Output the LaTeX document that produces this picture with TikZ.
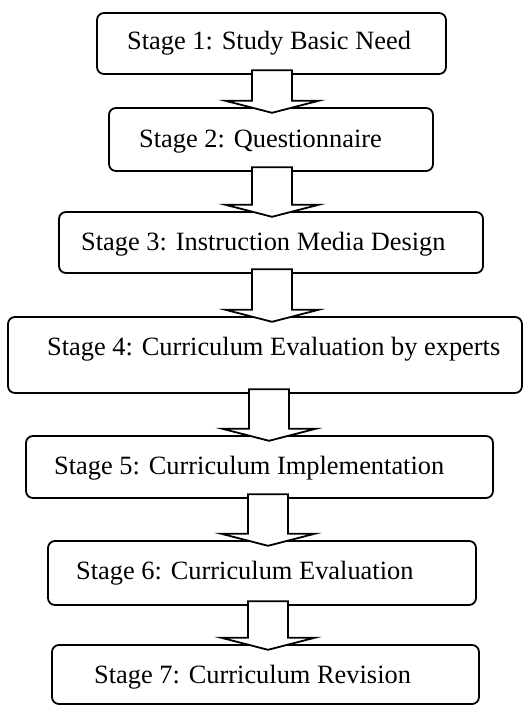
\documentclass[tikz,border=0pt]{standalone}
\usepackage{fontspec}
\setmainfont{Liberation Serif}
\usetikzlibrary{calc}
\tikzset{
  stagebox/.style={draw, line width=1.8pt, rounded corners=7pt, fill=white},
  stagetext/.style={anchor=base west, inner sep=0pt, font=\fontsize{26.4}{30}\selectfont},
  blockarr/.style={draw, line width=1.8pt, fill=white, line join=miter}
}
\newcommand\stagearrow[3]{%
  \draw[blockarr] ($(#1.south -| #3)+(-20,-4)$) -- ($(#2.north -| #3)+(-20,-7)$)
    -- ($(#2.north -| #3)+(-46.5,-7)$) -- ($(#2.north -| #3)+(0,5)$)
    -- ($(#2.north -| #3)+(46.5,-7)$) -- ($(#2.north -| #3)+(20,-7)$)
    -- ($(#1.south -| #3)+(20,-4)$) -- cycle;}
\begin{document}
\begin{tikzpicture}[x=1pt,y=-1pt]
\useasboundingbox (0,0) rectangle (528,706);
\fill[white] (0,0) rectangle (528,706);
% boxes
\path[stagebox] (97,13) rectangle (446,74);
\node[inner sep=0pt, minimum width=349pt, minimum height=61pt] (b1) at (271.5,43.5) {};
\path[stagebox] (109,108) rectangle (433,171);
\node[inner sep=0pt, minimum width=324pt, minimum height=63pt] (b2) at (271,139.5) {};
\path[stagebox] (59,212) rectangle (483,273);
\node[inner sep=0pt, minimum width=424pt, minimum height=61pt] (b3) at (271,242.5) {};
\path[stagebox] (8,317) rectangle (522,393);
\node[inner sep=0pt, minimum width=514pt, minimum height=76pt] (b4) at (265,355) {};
\path[stagebox] (26,436) rectangle (493,498);
\node[inner sep=0pt, minimum width=467pt, minimum height=62pt] (b5) at (259.5,467) {};
\path[stagebox] (48,541) rectangle (476,605);
\node[inner sep=0pt, minimum width=428pt, minimum height=64pt] (b6) at (262,573) {};
\path[stagebox] (52,645) rectangle (479,704);
\node[inner sep=0pt, minimum width=427pt, minimum height=59pt] (b7) at (265.5,674.5) {};
% texts
\node[stagetext] (t1) at (127,50) {Stage 1: Study Basic Need};
\node[stagetext] (t2) at (139,147) {Stage 2: Questionnaire};
\node[stagetext] (t3) at (81,250) {Stage 3: Instruction Media Design};
\node[stagetext] (t4) at (47,355) {Stage 4: Curriculum Evaluation by experts};
\node[stagetext] (t5) at (54,474) {Stage 5: Curriculum Implementation};
\node[stagetext] (t6) at (76,579) {Stage 6: Curriculum Evaluation};
\node[stagetext] (t7) at (94,683) {Stage 7: Curriculum Revision};
% arrow axes
\coordinate (ax1) at (272,0);
\coordinate (ax4) at (269,0);
\coordinate (ax5) at (268,0);
\stagearrow{b1}{b2}{ax1}
\stagearrow{b2}{b3}{ax1}
\stagearrow{b3}{b4}{ax1}
\stagearrow{b4}{b5}{ax4}
\stagearrow{b5}{b6}{ax5}
\stagearrow{b6}{b7}{ax5}
\end{tikzpicture}
\end{document}
